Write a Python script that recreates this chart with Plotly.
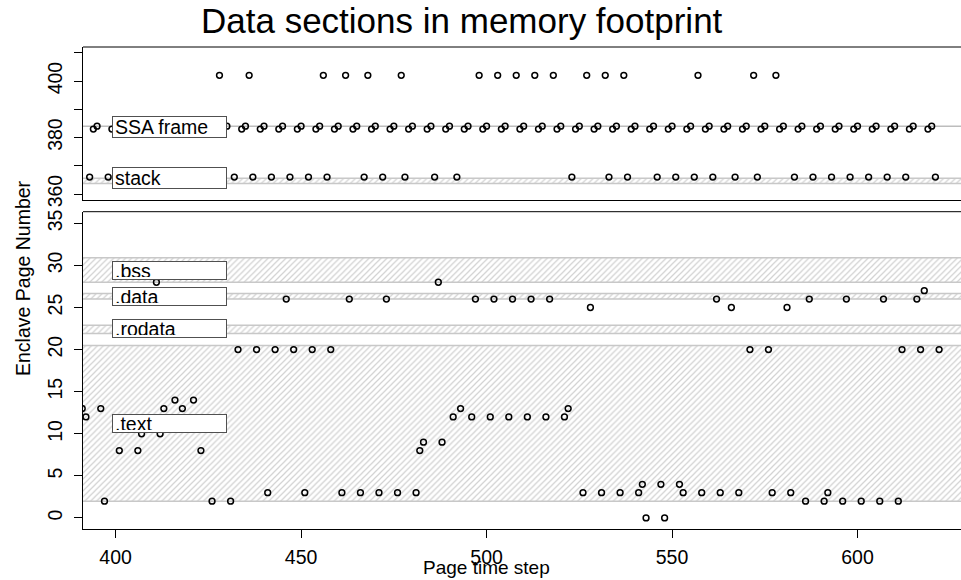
import plotly.graph_objects as go

# ---------------- data ----------------
# lower panel: code / static data pages (time step, page number)
low_steps = [391, 392, 396, 397, 401, 406, 407, 411, 412, 413, 416, 418, 421, 423, 426,
             431, 433, 438, 441, 443, 446, 448, 451, 453, 458, 461, 463, 466, 471, 473,
             476, 481, 482, 483, 487, 488, 491, 493, 496, 497, 501, 502, 506, 507, 511,
             512, 516, 517, 521, 522, 526, 528, 531, 536, 541, 542, 543, 547, 548, 552,
             553, 558, 562, 563, 566, 568, 571, 576, 577, 581, 582, 586, 587, 591, 592,
             596, 597, 601, 606, 607, 611, 612, 616, 617, 618, 622]
low_pages = [13, 12, 13, 2, 8, 8, 10, 28, 10, 13, 14, 13, 14, 8, 2,
             2, 20, 20, 3, 20, 26, 20, 3, 20, 20, 3, 26, 3, 3, 26,
             3, 3, 8, 9, 28, 9, 12, 13, 12, 26, 12, 26, 12, 26, 12,
             26, 12, 26, 12, 13, 3, 25, 3, 3, 3, 4, 0, 4, 0, 4,
             3, 3, 26, 3, 25, 3, 20, 20, 3, 25, 3, 2, 26, 2, 3,
             2, 26, 2, 2, 26, 2, 20, 26, 20, 27, 20]
assert len(low_steps) == len(low_pages)

# upper panel: heap page 402, stack page 366, SSA frame pages 383 / 384
heap_page = 402
heap_steps = [428, 436, 456, 462, 468, 477, 498, 503, 508, 513, 518, 527, 532, 537, 557, 572, 578]
stack_page = 366
stack_steps = [393, 398, 432, 437, 442, 447, 452, 457, 467, 472, 478, 486, 492, 523, 533, 538,
               546, 551, 556, 561, 567, 573, 583, 588, 593, 598, 603, 608, 613, 621]
ssa_lo_page = 383
ssa_lo_steps = [394, 399, 434, 439, 444, 449, 454, 459, 464, 469, 474, 479, 484, 489, 494, 499,
                504, 509, 514, 519, 524, 529, 534, 539, 544, 549, 554, 559, 564, 569, 574, 579,
                584, 589, 594, 599, 604, 609, 614, 619]
ssa_hi_page = 384
ssa_hi_steps = [395, 430, 435, 440, 445, 450, 455, 460, 465, 470, 475, 480, 485, 490, 495, 500,
                505, 510, 515, 520, 525, 530, 535, 540, 545, 550, 555, 560, 565, 570, 575, 580,
                585, 590, 595, 600, 605, 610, 615, 620]

# memory sections (page ranges)
low_sections = [".text", ".rodata", ".data", ".bss"]
low_sec_lo = [2.0, 21.9, 26.0, 28.0]
low_sec_hi = [20.5, 22.9, 26.65, 30.9]
top_sections = ["SSA frame", "stack"]
top_sec_lo = [384.0, 363.7]
top_sec_hi = [384.0, 365.6]

x_ticks = [400, 450, 500, 550, 600]
low_y_ticks = [0, 5, 10, 15, 20, 25, 30, 35]
top_y_ticks = [360, 370, 380, 390, 400, 410]
top_y_labels = ["360", "", "380", "", "400", ""]

# ---------------- figure ----------------
FONT = "Liberation Sans, Arial, Helvetica, sans-serif"
XR = [391.21, 627.9]
X0, X1 = XR[0] - 2, XR[1] + 2
HATCH = dict(shape="/", fgcolor="#a6a6a6", bgcolor="white", size=4.2, solidity=0.3)

top_steps = ssa_lo_steps + ssa_hi_steps + stack_steps + heap_steps
top_pages = ([ssa_lo_page] * len(ssa_lo_steps) + [ssa_hi_page] * len(ssa_hi_steps)
             + [stack_page] * len(stack_steps) + [heap_page] * len(heap_steps))

fig = go.Figure()

for name, lo, hi in zip(low_sections, low_sec_lo, low_sec_hi):
    fig.add_trace(go.Scatter(x=[X0, X1, X1, X0, X0], y=[lo, lo, hi, hi, lo],
                             mode="lines", fill="toself", fillcolor="white",
                             fillpattern=HATCH, line=dict(color="#c8c8c8", width=1.5),
                             xaxis="x", yaxis="y", hoverinfo="skip", showlegend=False))
for name, lo, hi in zip(top_sections, top_sec_lo, top_sec_hi):
    if hi - lo > 0:
        fig.add_trace(go.Scatter(x=[X0, X1, X1, X0, X0], y=[lo, lo, hi, hi, lo],
                                 mode="lines", fill="toself", fillcolor="white",
                                 fillpattern=HATCH, line=dict(color="#c8c8c8", width=1.5),
                                 xaxis="x2", yaxis="y2", hoverinfo="skip", showlegend=False))
    else:
        fig.add_trace(go.Scatter(x=[X0, X1], y=[lo, hi], mode="lines",
                                 line=dict(color="#bdbdbd", width=1.6),
                                 xaxis="x2", yaxis="y2", hoverinfo="skip", showlegend=False))

MARK = dict(symbol="circle-open", size=5.8, color="black", line=dict(width=1.5, color="black"))
fig.add_trace(go.Scatter(x=low_steps, y=low_pages, mode="markers", marker=MARK,
                         xaxis="x", yaxis="y", showlegend=False))
fig.add_trace(go.Scatter(x=top_steps, y=top_pages, mode="markers", marker=MARK,
                         xaxis="x2", yaxis="y2", showlegend=False))

# section labels (boxes drawn over the points)
label_specs = [(".bss", "y", 29.41, 17), (".data", "y", 26.29, 17), (".rodata", "y", 22.49, 17),
               (".text", "y", 11.2, 17), ("SSA frame", "y2", 383.77, 20), ("stack", "y2", 365.6, 20)]
for txt, yref, yc, h in label_specs:
    fig.add_annotation(x=398.95, y=yc, xref="x" if yref == "y" else "x2", yref=yref,
                       text=txt, showarrow=False, xanchor="left", yanchor="middle",
                       align="left", width=109, height=h - 4, borderpad=2,
                       bgcolor="white", bordercolor="#505050", borderwidth=1,
                       font=dict(family=FONT, size=19.5, color="black"))

axis_common = dict(showgrid=False, zeroline=False, showline=True, linecolor="black",
                   linewidth=1, ticks="outside", ticklen=8, tickwidth=1, tickcolor="black",
                   tickfont=dict(family=FONT, size=19.5, color="black"))

fig.update_layout(
    width=961, height=580,
    margin=dict(l=83, r=0, t=47, b=51),
    paper_bgcolor="white", plot_bgcolor="white",
    font=dict(family=FONT, size=19.5, color="black"),
    xaxis=dict(domain=[0, 1], anchor="y", range=XR, tickmode="array", tickvals=x_ticks,
               ticklabelstandoff=3, **axis_common),
    yaxis=dict(domain=[0, 0.6583], anchor="x", range=[-1.31, 36.38], tickmode="array",
               tickvals=low_y_ticks, tickangle=-90, ticklabelstandoff=4, **axis_common),
    xaxis2=dict(domain=[0, 1], anchor="y2", range=XR, matches="x", showticklabels=False,
                showgrid=False, zeroline=False, showline=True, linecolor="black",
                linewidth=1, ticks=""),
    yaxis2=dict(domain=[0.6826, 1], anchor="x2", range=[357.88, 412.04], tickmode="array",
                tickvals=top_y_ticks, ticktext=top_y_labels, tickangle=-90,
                ticklabelstandoff=4, **axis_common),
    shapes=[
        dict(type="line", xref="paper", yref="y domain", x0=0, x1=1, y0=1, y1=1,
             line=dict(color="black", width=1)),
        dict(type="line", xref="paper", yref="y2 domain", x0=0, x1=1, y0=1, y1=1,
             line=dict(color="black", width=1)),
    ],
)

# titles
fig.add_annotation(text="Data sections in memory footprint", xref="paper", yref="paper",
                   x=(462 - 83) / 878, y=(529 - 21) / 482, xanchor="center", yanchor="middle",
                   showarrow=False, font=dict(family=FONT, size=35, color="black"))
fig.add_annotation(text="Page time step", xref="paper", yref="paper",
                   x=(486 - 83) / 878, y=(529 - 567.5) / 482, xanchor="center", yanchor="middle",
                   showarrow=False, font=dict(family=FONT, size=19, color="black"))
fig.add_annotation(text="Enclave Page Number", xref="paper", yref="paper",
                   x=(23 - 83) / 878, y=(529 - 278) / 482, xanchor="center", yanchor="middle",
                   textangle=-90, showarrow=False, font=dict(family=FONT, size=19.5, color="black"))

fig.write_html("out.html", config={"displayModeBar": False},
               post_script="document.body.style.margin='0';document.body.style.overflow='hidden';")
